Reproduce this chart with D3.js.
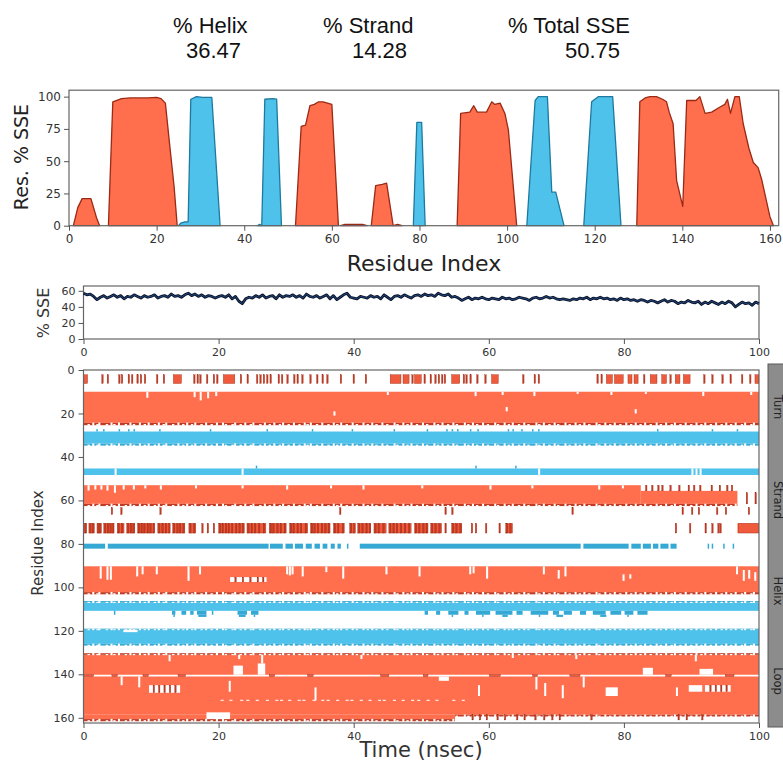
<!DOCTYPE html>
<html><head><meta charset="utf-8">
<script src="https://cdn.jsdelivr.net/npm/d3@7"></script>
<style>body{margin:0;background:#fff}svg{display:block}</style>
</head><body><svg id="c" width="783" height="764"></svg>
<script>
// ---------------- DATA ----------------
const summaryLabels = ["% Helix", "% Strand", "% Total SSE"];
const summaryValues = ["36.47", "14.28", "50.75"];

// Residue profile (residue, % of time) – helix segments
const helixProfiles = [
  [[1,0],[2,14],[3,21],[5,21],[6.3,6],[7,0]],
  [[9,0],[10,96],[12,98.5],[14,99],[18,99],[20,99.5],[21,98.5],[22,95],[23,62],[24,30],[24.7,0]],
  [[51.7,0],[53,77],[54,78],[55,93],[56,94],[57,96],[58,96],[59,95],[60,94],[61.5,0]],
  [[62,0],[63,1],[67,1],[68,0]],
  [[69,0],[70,31],[71.5,32],[72.5,33],[74,0]],
  [[74,0],[75,1],[76,0]],
  [[88.6,0],[89.4,87],[91.5,88],[92.4,93],[93.2,88],[95.3,88],[96.5,96],[97.2,94],[98.4,95],[99.5,87],[100.3,74],[102.2,0]],
  [[129.6,0],[130.3,96],[131.5,99],[132.6,100],[134.1,100],[135.5,98],[136.4,96],[137,88],[137.9,79],[138.7,35],[140.1,15],[141,97],[143.1,97],[144,100],[145.2,87],[146.7,88],[148.6,92],[149.7,94],[150.3,98],[151,87],[152,100],[153,100],[153.9,79],[155.2,60],[156.2,49],[157.3,45],[158.1,36],[160,7],[160.8,0]]
];
// strand segments
const strandProfiles = [
  [[25,0],[25.5,2],[26.5,3],[27.2,3],[27.8,98],[28.5,99],[29.1,100],[30.5,99.5],[32.6,99.5],[34.5,0]],
  [[43,0],[43.5,1],[44,0],[44.7,98],[46.5,98.5],[47.4,98],[48.5,0]],
  [[78.6,0],[79.4,80],[80.5,80],[81.3,0]],
  [[104.5,0],[106.4,97],[107.1,100],[109.2,100],[110.2,26],[111.1,26],[113,0]],
  [[117.5,0],[119.3,96],[120.8,100],[124.1,100],[126,0]]
];

// Total % SSE over time (every 0.5 ns, 0..100)
const sseValues = [
  57,55,56,53,49,52,54,51,53,55,52,54,50,53,52,55,53,51,54,52,53,
  55,51,53,54,52,56,53,54,52,55,57,54,56,53,55,52,54,53,51,53,
  54,52,55,50,53,47,44,50,52,51,54,52,55,51,53,54,50,55,52,54,
  53,55,52,54,51,56,53,52,54,51,53,55,50,54,49,52,55,57,52,51,
  50,53,52,51,54,52,53,50,55,52,49,53,54,52,55,53,51,54,55,53,
  56,54,55,53,57,55,54,56,52,53,51,48,50,52,49,51,50,52,50,49,
  51,50,49,52,50,51,49,50,52,51,50,48,51,52,50,51,53,51,52,50,
  49,50,49,48,50,49,51,50,52,49,51,50,52,50,51,49,50,48,51,49,
  50,48,49,47,49,48,46,48,47,45,47,49,46,48,47,44,46,45,48,46,
  45,47,43,46,44,47,45,43,46,44,47,45,40,43,46,44,45,42,46,44
];
const sseStep = 0.5;

// Timeline: solid blocks [resStart, resEnd, tStart, tEnd]
const helixBlocks = [
  [10,24.3,0,100],[53,61.6,0,82.5],[55.6,61.6,82.5,96.8],[90.3,102.2,0,100],
  [131,140.2,0,100],[141,158.6,0,100],[158.6,160.6,0,55],[70.6,75,96.8,100]
];
const strandBlocks = [
  [28.3,33.9,0,100],[45.3,48.3,0,100],[107,110.8,0,100],[119.5,126,0,100]
];
// rows of marks: [resStart, resEnd, type, items] ; item = time (thin mark) or [t0,t1]
const tickRows = [
  [2.2,6.2,"H",[[0,0.6],2.7,3.5,5.2,5.6,6.6,7.1,7.9,8.4,9.0,10.8,11.8,[13.3,14.5],16.3,16.8,17.2,18.2,19.2,19.7,[20.7,22.4],23.2,24.2,25.6,26.1,26.6,27.1,27.6,28.8,29.3,30.1,31.1,31.6,32.3,33.5,34.5,35.3,36,38,39.9,41.7,[45.4,47.0],[47.3,48.2],48.6,[49.0,50.0],50.4,51.3,52,52.5,53,53.4,[54.5,55.7],56.2,56.6,57.2,58.2,59.4,[60.4,61.4],65,66.7,67.3,76,76.6,[77.4,78.3],[78.6,79.9],[80.6,81.2],[81.5,82.1],82.9,[83.9,84.9],[85.6,86.3],86.8,[87.6,88.3],[88.8,89.8],91.8,93,94.5,95.7,97.4,98.6,[99.4,100]]],
  [63.3,66.5,"H",[4.1,5.5,11.3,37.9,53.5,54.5,72.3,88.6,90,91,93.7,95,98.4]],
  [56.5,61.6,"H",[98.1,99.4]],
  [53,55.6,"H",[83.2,84.1,85,85.6,86.8,88.1,89.5,90.3,91.2,92.9,94.1,95.2,95.9]],
  [70.6,75,"H",[[0,0.4],[0.8,1.6],[2,2.6],[3,4.5],[5,6],[6.4,7.6],[8,10.5],[11,12.8],[13.2,15],[15.6,16.6],[20,23.8],[24.2,27],[27.5,30],[30.5,33.2],[33.6,36.5],[37,38.6],[39.4,40.2],[40.6,42.5],[43,44.8],[45.2,48.5],[49,51],[51.4,53],[54.5,56],[62.5,63.5]]],
  [70.6,75,"H",[0.2,0.9,1.3,2.1,2.4,3.1,3.5,3.9,4.3,5.1,5.6,6.5,6.9,7.3,8.1,8.5,8.9,9.4,9.8,10.3,11.1,11.6,12.1,12.6,13.3,13.8,14.2,14.7,15.7,16.3,17.5,18.3,19.2,20.1,20.5,21.0,21.4,21.9,22.5,23.0,23.5,24.3,24.8,25.3,25.9,26.6,27.6,28.0,28.6,29.1,29.7,30.6,31.0,31.6,32.1,32.8,33.7,34.1,34.6,35.2,35.7,36.2,37.1,37.6,38.3,39.5,40.0,40.7,41.2,41.8,42.3,43.1,43.6,44.3,45.3,45.8,46.3,46.9,47.5,48.1,49.1,49.6,50.2,50.7,51.5,52.0,52.6,53.5,54.6,55.1,55.7,57.4,58,59.5,61.5,62.6,63.1,87.6,89.7,92,93,93.9,94.2,[97.0,100]]],
  [158.6,161,"H",[57.5,58.6,59.6,61.2,62.3,64.1,65.2,66.8,68.1,69.3,70.4,75.1,88.0,89.2,91.5]],
  [140.2,141,"H",[[0,1.5],[4.2,5.0],[8.8,9.6],[14,15.1],[27.5,28.3],[33.2,34],[44,45.2],[50.3,51],[60.1,61.7],[66.5,67.2],[72,73.5],[86.2,87],[95,96.3]]],
  [145,148.5,"H",[10.3,11.1,11.9,12.7,13.5]],
  [145,148,"H",[92.7,93.5,94.3,95.1]],
  [95.3,97.5,"H",[22.4,23.5,24.6,25.7,26.5]],
  [79.9,82.2,"S",[[0,3.2],[3.6,27.4],[27.6,29.5],[29.9,31.0],[31.3,32.5],[32.9,33.8],[34.2,35.0],[35.4,36.1],[36.6,37.2],[37.6,38.1],39.0,[40.9,73.6],[74.0,80.7],[81.1,82.5],[82.8,84.0],[84.3,85.1],[85.4,86.6],[86.9,87.8],92.4,93.0,94.7,96.1]],
  [27.2,28.3,"S",[1.9,2.9,5.2,6.6,7.4,11.2,18.7,27.1,33.8,39.7,45.9,50.8,53.7,54.5,55.3,57.2,58.3,62.8,63.5,64.8,66.4,67.3,84.9,93.0,96.7]],
  [44.0,45.3,"S",[25.5,58,63.9]],
  [110.8,112.6,"S",[4.5,[13.1,13.6],[14.5,15.2],[15.8,16.3],[16.8,18.2],19,[22.8,24.2],[24.8,25.9],[50.5,51],[52.2,52.8],[54,55.5],[56.4,57],[58.1,60.2],[61,63.5],[64.1,65],[66.2,68.8],[69.5,70.4],[71.1,72.3],[73.5,74.4],[75.4,77.3],[78,79.6],[80.1,81.4],[82.0,83.5]]],
  [112.6,113.6,"S",[13.3,[17,18.2],[23,24],25.2,54.5,59,[62,62.8],67.4,[70,71],[76.5,77.4],80.5]]
];
// ragged edges: [resStart, resEnd, type, tStart, tEnd]
const fringeRows = [
  [24.3,25.4,"H",0,100],[61.6,62.6,"H",0,96.8],[102.2,103.2,"H",0,100],
  [130.3,131,"H",0,100],[160.6,161.6,"H",0,55],[158.6,159.4,"H",55,100],
  [33.9,34.8,"S",0,100],[106.3,107,"S",0,100],[119,119.5,"S",0,100],[126,126.8,"S",0,100]
];
// deep (full) and shallow gaps along ragged edges
const gapsDeep = [1.3,2.2,4.0,5.1,6.8,8.2,9.5,11.0,12.1,13.9,15.2,16.4,18.0,19.6,20.5,22.3,23.8,25.0,26.7,28.1,29.4,31.0,32.6,33.5,35.2,36.9,38.0,39.7,41.3,42.6,44.1,45.9,47.2,48.4,50.1,51.8,53.0,54.6,56.3,57.5,59.0,60.8,62.2,63.4,65.1,66.9,68.0,69.6,71.2,72.7,74.0,75.8,77.1,78.5,80.2,81.6,83.0,84.7,86.1,87.4,89.0,90.6,91.9,93.5,95.0,96.4,97.8,99.1];
const gapsShallow = [0.6,1.9,3.3,4.4,6.1,7.3,8.9,10.4,11.7,13.1,14.6,15.9,17.3,18.8,20.9,21.9,23.1,24.6,26.0,27.4,28.9,30.2,31.8,33.0,34.4,36.1,37.4,38.8,40.3,41.9,43.2,44.8,46.3,47.8,49.2,50.7,52.3,53.8,55.1,56.8,58.1,59.7,61.2,62.8,64.3,65.7,67.3,68.8,70.1,71.8,73.3,74.7,76.2,77.8,79.3,80.9,82.3,83.8,85.3,86.9,88.2,89.8,91.3,92.7,94.3,95.7,97.3,98.7];
// white vertical breaks inside bands: [resStart, resEnd, time]
const whiteLines = [
  [10,12.8,9.3],[10,12.5,16.3],[10,14,17.2],[10,13,18.3],[10,12,19.5],[10,11.5,44.9],[10,12,57.9],[10,11.5,61.9],[10,12,66.6],[10,11,73],[10,11.5,78],[10,11,83.1],[10,12,91.6],[10,11.5,98.7],[19,21,37.0],[17,19,62.5],[18,20,81.6],
  [45.3,48.3,4.6],[45.3,48.3,23.4],[45.3,48.3,67.3],[45.3,48.3,90],[45.3,48.3,90.6],[45.3,48.3,91.2],
  [53,55.5,0.6],[53,55,1.6],[53,55,2.5],[53,55.5,3.4],[53,56.5,4.5],[53,55,5.8],[53,55,7.3],[53,54.5,9.0],[53,55,11.3],[53,54.5,16.5],[53,54.5,23.4],[53,55,30.0],[53,54.5,36.5],[53,55,41.3],[53,54.5,50],[53,55,60.1],[53,54.5,66.3],[53,55,76.2],[53,54.5,79.7],
  [90.3,96,2.4],[90.3,96.5,3.4],[90.3,96.5,3.9],[90.3,95,7.8],[90.3,94,8.6],[90.3,94,10.7],[90.3,97,15.4],[90.3,94,17.1],[90.3,94,30.0],[90.3,94.5,30.4],[90.3,94,30.8],[90.3,95,32.3],[90.3,93,35.8],[90.3,96,38.3],[90.3,94,44.7],[90.3,95,49.6],[90.3,94,57.1],[90.3,93.5,57.6],[90.3,96,59.6],[90.3,94,68],[92,96,70.2],[90.3,95,71.2],[94,97,79.8],[94,96,80.8],[90.3,94,96.6],[92,97,97.6],[92,96,98.4],[93,97,99.3],
  [131,134,12.6],[131,133,22.9],[131,135,26.3],[131,133,41.0],[131,132.5,63.4],[131,133,72.8],[131,134,90.5],
  [141,145,5.5],[141,146,8.1],[143,148,21.5],[146,152,34.2],[145,150,58.4],[141,147,66.9],[144,150,68.2],[145,151,70.8],[141,146,73.9],[146,150,87.7]
];
// white patches: [resStart, resEnd, tStart, tEnd]
const whiteRects = [
  [95.3,97.5,21.7,27.1],[119.5,120.6,5.9,8.0],
  [136,140.2,22.2,23.6],[135,140.2,25.8,26.9],[137,140.2,82.8,84.3],[137.5,140.2,91.2,93.2],[141,143,52.6,54.1],
  [145,148.5,9.7,14.3],[146,150,77.3,79.1],[145,148,89.6,91.6],[145,148,92,95.8],
  [157.5,160.6,18.2,21.7]
];
// faint dotted breaks around residue 152
const dotTimes = [20.3,21.6,23.2,24.1,25.5,27.0,28.4,29.1,30.3,31.7,32.4,33.9,35.2,36.0,37.4,38.8,39.5,40.9,42.2,43.6,44.3,45.8,47.1,48.5,49.4,50.8,52.1,54.6,56.0];
const panelLabels = ["Turn", "Strand", "Helix", "Loop"];

// ---------------- DRAW ----------------
const svg = d3.select("#c");
const HFILL = "#ff6e4d", HSTROKE = "#9a2a15", HTICK = "#c23a22", SFILL = "#4fc2ec", SSTROKE = "#1d7a9e", STICK = "#35a9d4";
const tickFont = "DejaVu Sans, sans-serif";

// header
const hdrX = [173, 323, 508], valX = [186, 352, 565];
summaryLabels.forEach((s, i) => {
  svg.append("text").attr("x", hdrX[i]).attr("y", 33).text(s)
    .attr("font-family", "Liberation Sans, Arial, sans-serif").attr("font-size", 22).attr("fill", "#111");
  svg.append("text").attr("x", valX[i]).attr("y", 58).text(summaryValues[i])
    .attr("font-family", "Liberation Sans, Arial, sans-serif").attr("font-size", 22).attr("fill", "#111");
});

function styleAxis(g, fs) {
  g.selectAll("path,line").attr("stroke", "#555");
  g.selectAll("text").attr("font-family", tickFont).attr("font-size", fs).attr("fill", "#333");
}

// ---- top chart
const x1 = d3.scaleLinear([0, 162], [69, 778.7]);
const y1 = d3.scaleLinear([0, 105], [225.7, 90.2]);
const gTop = svg.append("g");
const area1 = d3.area().x(d => x1(d[0])).y0(y1(0)).y1(d => y1(d[1]));
helixProfiles.forEach(p => gTop.append("path").attr("d", area1(p)).attr("fill", HFILL).attr("stroke", HSTROKE).attr("stroke-width", 1.3).attr("stroke-linejoin", "round"));
strandProfiles.forEach(p => gTop.append("path").attr("d", area1(p)).attr("fill", SFILL).attr("stroke", SSTROKE).attr("stroke-width", 1.3).attr("stroke-linejoin", "round"));
gTop.append("rect").attr("x", x1(0)).attr("y", y1(105)).attr("width", x1(162) - x1(0)).attr("height", y1(0) - y1(105)).attr("fill", "none").attr("stroke", "#666").attr("stroke-width", 1.2);
const ax1 = gTop.append("g").attr("transform", `translate(0,${y1(0)})`).call(d3.axisBottom(x1).tickValues([0,20,40,60,80,100,120,140,160]).tickSize(5).tickPadding(4));
styleAxis(ax1, 12); ax1.select(".domain").remove();
const ay1 = gTop.append("g").attr("transform", `translate(${x1(0)},0)`).call(d3.axisLeft(y1).tickValues([0,25,50,75,100]).tickSize(5).tickPadding(3));
styleAxis(ay1, 12); ay1.select(".domain").remove();
gTop.append("text").attr("transform", "translate(28,157) rotate(-90)").attr("text-anchor", "middle").text("Res. % SSE")
  .attr("font-family", tickFont).attr("font-size", 19).attr("fill", "#222");
gTop.append("text").attr("x", 424).attr("y", 271).attr("text-anchor", "middle").text("Residue Index")
  .attr("font-family", tickFont).attr("font-size", 22).attr("fill", "#222");

// ---- middle chart
const x2 = d3.scaleLinear([0, 100], [83.5, 759]);
const y2 = d3.scaleLinear([0, 66], [339, 286]);
const gMid = svg.append("g");
gMid.append("rect").attr("x", x2(0)).attr("y", y2(66)).attr("width", x2(100) - x2(0)).attr("height", y2(0) - y2(66)).attr("fill", "none").attr("stroke", "#666").attr("stroke-width", 1.2);
const line2 = d3.line().x((d, i) => x2(i * sseStep)).y(d => y2(d));
gMid.append("path").attr("d", line2(sseValues)).attr("fill", "none").attr("stroke", "#0b1226").attr("stroke-width", 2.8).attr("stroke-linejoin", "round");
gMid.append("path").attr("d", line2(sseValues)).attr("fill", "none").attr("stroke", "#24508e").attr("stroke-width", 0.9).attr("stroke-linejoin", "round");
const ax2 = gMid.append("g").attr("transform", `translate(0,${y2(0)})`).call(d3.axisBottom(x2).tickValues([0,20,40,60,80,100]).tickSize(5).tickPadding(4));
styleAxis(ax2, 11); ax2.select(".domain").remove();
const ay2 = gMid.append("g").attr("transform", `translate(${x2(0)},0)`).call(d3.axisLeft(y2).tickValues([0,20,40,60]).tickSize(5).tickPadding(3));
styleAxis(ay2, 11); ay2.select(".domain").remove();
gMid.append("text").attr("transform", "translate(49,313) rotate(-90)").attr("text-anchor", "middle").text("% SSE")
  .attr("font-family", tickFont).attr("font-size", 16).attr("fill", "#333");

// ---- bottom timeline
const hx = d3.scaleLinear([0, 100], [83.5, 759]);
const hy = d3.scaleLinear([0, 162.4], [370, 723]);
svg.append("clipPath").attr("id", "clipH").append("rect").attr("x", hx(0)).attr("y", hy(0)).attr("width", hx(100) - hx(0)).attr("height", hy(162.4) - hy(0));
const gBot = svg.append("g").attr("clip-path", "url(#clipH)");
function block(r0, r1, t0, t1, fill, stroke, sw, op) {
  const w = Math.max(hx(t1) - hx(t0), 1.2);
  gBot.append("rect").attr("x", hx(t0)).attr("y", hy(r0)).attr("width", w).attr("height", hy(r1) - hy(r0))
    .attr("fill", fill).attr("stroke", stroke || "none").attr("stroke-width", sw || 0).attr("opacity", op || 1);
}
const colOf = t => t === "H" ? [HFILL, HSTROKE, HTICK] : [SFILL, SSTROKE, STICK];
helixBlocks.forEach(b => block(b[0], b[1], b[2], b[3], HFILL));
strandBlocks.forEach(b => block(b[0], b[1], b[2], b[3], SFILL));
fringeRows.forEach(f => {
  const [fc, sc, tc] = colOf(f[2]);
  block(f[0], f[1], f[3], f[4], tc);
  gapsDeep.filter(t => t >= f[3] && t < f[4]).forEach(t => block(f[0] - 0.1, f[1] + 0.2, t, t + 0.3, "#fff"));
  gapsShallow.filter(t => t >= f[3] && t < f[4]).forEach(t => block((f[0] + f[1]) / 2, f[1] + 0.2, t, t + 0.35, "#fff"));
});
whiteLines.forEach(w => block(w[0], w[1], w[2], w[2] + 0.3, "#fff"));
whiteRects.forEach(w => block(w[0], w[1], w[2], w[3], "#fff"));
dotTimes.forEach(t => block(151.7, 152.3, t, t + 0.45, "#fff", null, 0, 0.85));
tickRows.forEach(r => {
  const [fc, sc, tc] = colOf(r[2]);
  r[3].forEach(it => {
    if (Array.isArray(it)) block(r[0], r[1], it[0], it[1], r[2] === "H" ? "#ef5a3c" : tc, r[2] === "H" ? sc : null, 0.4);
    else block(r[0], r[1], it, it + 0.22, r[2] === "H" ? HTICK : tc, r[2] === "H" ? HSTROKE : null, 0.3);
  });
});
svg.append("rect").attr("x", hx(0)).attr("y", hy(0)).attr("width", hx(100) - hx(0)).attr("height", hy(162.4) - hy(0)).attr("fill", "none").attr("stroke", "#666").attr("stroke-width", 1.2);
const ax3 = svg.append("g").attr("transform", `translate(0,${hy(162.4)})`).call(d3.axisBottom(hx).tickValues([0,20,40,60,80,100]).tickSize(5).tickPadding(4));
styleAxis(ax3, 11); ax3.select(".domain").remove();
const ay3 = svg.append("g").attr("transform", `translate(${hx(0)},0)`).call(d3.axisLeft(hy).tickValues([0,20,40,60,80,100,120,140,160]).tickSize(5).tickPadding(4));
styleAxis(ay3, 11); ay3.select(".domain").remove();
svg.append("text").attr("transform", "translate(43,543) rotate(-90)").attr("text-anchor", "middle").text("Residue Index")
  .attr("font-family", tickFont).attr("font-size", 15).attr("fill", "#333");
svg.append("text").attr("x", 421).attr("y", 757).attr("text-anchor", "middle").text("Time (nsec)")
  .attr("font-family", tickFont).attr("font-size", 21).attr("fill", "#333");

// right-hand category strip
svg.append("rect").attr("x", 768).attr("y", 364).attr("width", 20).attr("height", 363).attr("fill", "#8c8c8c").attr("stroke", "#5a5a5a").attr("stroke-width", 1);
const panelLabelY = [407, 500, 591, 681];
panelLabels.forEach((s, i) => {
  svg.append("text").attr("transform", `translate(773.5,${panelLabelY[i]}) rotate(90)`).attr("text-anchor", "middle").text(s)
    .attr("font-family", tickFont).attr("font-size", 11.5).attr("fill", "#222");
});
</script></body></html>
